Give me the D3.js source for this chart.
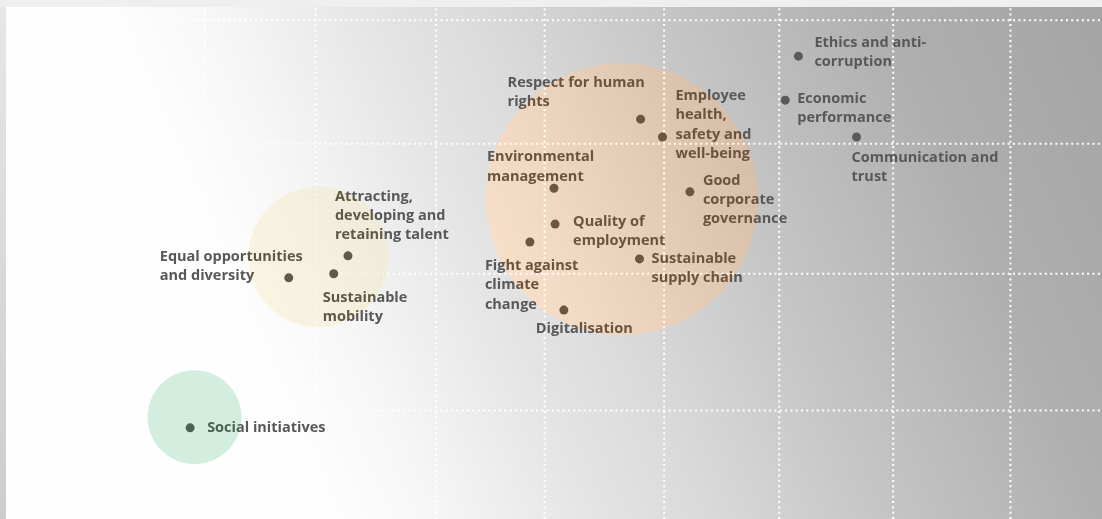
<!DOCTYPE html>
<html>
<head>
<meta charset="utf-8">
<script src="https://cdn.jsdelivr.net/npm/d3@7"></script>
<style>
  html, body { margin: 0; padding: 0; background: #efefef; }
  body { width: 1102px; height: 519px; overflow: hidden; }
  svg { display: block; }
  .label { font-family: "Open Sans", Lato, sans-serif; font-weight: 700; font-size: 14.5px; fill: #58585a; }
</style>
</head>
<body>
<svg id="chart" width="1102" height="519"></svg>
<script>
// Material topics (x = impact on business, y = relevance to stakeholders, 0-100)
const topicNames = [
    'Ethics and anti-\ncorruption',
    'Economic\nperformance',
    'Communication and\ntrust',
    'Respect for human\nrights',
    'Employee\nhealth,\nsafety and\nwell-being',
    'Environmental\nmanagement',
    'Good\ncorporate\ngovernance',
    'Quality of\nemployment',
    'Fight against\nclimate\nchange',
    'Sustainable\nsupply chain',
    'Digitalisation',
    'Attracting,\ndeveloping and\nretaining talent',
    'Equal opportunities\nand diversity',
    'Sustainable\nmobility',
    'Social initiatives'
];
const topicX = [72.3, 71.1, 77.6, 57.9, 59.9, 50.0, 62.4, 50.1, 47.8, 57.8, 50.9, 31.2, 25.8, 29.9, 16.8];
const topicY = [90.4, 81.8, 74.6, 78.1, 74.6, 64.6, 63.9, 57.6, 54.1, 50.8, 40.8, 51.4, 47.1, 47.9, 17.8];

// Priority bubbles
const bubbleX = [17.2, 28.5, 56.2];
const bubbleY = [19.9, 51.2, 62.5];
const bubbleWeight = [9.8, 21.8, 82.2];

// Grid lines
const gridX = [18.1, 28.2, 39.2, 49.1, 60.0, 70.5, 80.9, 91.6];
const gridY = [97.5, 73.4, 48.0, 21.3];

// Label placement next to each dot (px)
const labelOffsets = [
    [16, -14], [12, -2], [-5, 20], [-133, -37], [13, -42],
    [-67, -32], [13, -12], [18, -3], [-45, 23], [12, -1],
    [-28, 18], [-13, -60], [-129, -22], [-11, 23], [17, -1]
];

const bubbleFill = ['#d3eedb', 'rgba(236,224,190,0.3)', 'none'];
const bubbleTint = ['#b9d3c5', '#cec8b6', '#c6ae98'];

const svg = d3.select('#chart');
const plot = { left: 6, top: 7, right: 1102, bottom: 519 };

const x = d3.scaleLinear().domain([0, 100]).range([plot.left, plot.right]);
const y = d3.scaleLinear().domain([0, 100]).range([plot.bottom, plot.top]);
const r = d3.scaleSqrt().domain([0, 100]).range([0, 150]);

// Background gradient
const defs = svg.append('defs');
const grad = defs.append('linearGradient')
    .attr('id', 'bg')
    .attr('gradientUnits', 'userSpaceOnUse')
    .attr('x1', 105).attr('y1', 7)
    .attr('x2', 943).attr('y2', -358);
[[0, 255], [0.1, 248], [0.27, 229], [0.37, 220], [0.55, 199], [0.78, 176], [1, 165]]
    .forEach(([o, v]) => grad.append('stop')
        .attr('offset', o)
        .attr('stop-color', d3.rgb(v, v - 1, v - 1)));

const leftGrad = defs.append('linearGradient')
    .attr('id', 'edge')
    .attr('x1', 0).attr('y1', 0).attr('x2', 0).attr('y2', 1);
leftGrad.append('stop').attr('offset', 0).attr('stop-color', '#e6e6e6');
leftGrad.append('stop').attr('offset', 1).attr('stop-color', '#cdcdcd');

svg.append('rect')
    .attr('x', 0).attr('y', plot.top)
    .attr('width', plot.left).attr('height', plot.bottom - plot.top)
    .attr('fill', 'url(#edge)');

svg.append('rect')
    .attr('x', plot.left).attr('y', plot.top)
    .attr('width', plot.right - plot.left).attr('height', plot.bottom - plot.top)
    .attr('fill', 'url(#bg)');

// Grid
const gridStyle = g => {
    g.select('.domain').remove();
    g.selectAll('.tick line')
        .attr('stroke', '#fff')
        .attr('stroke-width', 2)
        .attr('stroke-dasharray', '2 3.3');
    g.selectAll('.tick text').remove();
};

svg.append('g')
    .attr('transform', `translate(0, ${plot.bottom})`)
    .call(d3.axisBottom(x).tickValues(gridX).tickSize(-(plot.bottom - plot.top)).tickFormat(''))
    .call(gridStyle);

svg.append('g')
    .attr('transform', `translate(${plot.left}, 0)`)
    .call(d3.axisLeft(y).tickValues(gridY).tickSize(-(plot.right - plot.left)).tickFormat(''))
    .call(gridStyle);

const bubbles = bubbleX.map((bx, i) => ({ x: bx, y: bubbleY[i], w: bubbleWeight[i], fill: bubbleFill[i], tint: bubbleTint[i] }));

// Bubble fills under the topics
svg.append('g')
    .selectAll('circle')
    .data(bubbles.filter(d => d.fill !== 'none'))
    .join('circle')
    .attr('cx', d => x(d.x))
    .attr('cy', d => y(d.y))
    .attr('r', d => r(d.w))
    .attr('fill', d => d.fill);

const topics = topicNames.map((name, i) => ({ name, x: topicX[i], y: topicY[i], off: labelOffsets[i] }));

// Dots
svg.append('g')
    .selectAll('circle')
    .data(topics)
    .join('circle')
    .attr('cx', d => x(d.x))
    .attr('cy', d => y(d.y))
    .attr('r', 4.5)
    .attr('fill', '#5a5a5a');

// Labels
const lineHeight = 19.3;
svg.append('g')
    .selectAll('text')
    .data(topics)
    .join('text')
    .attr('class', 'label')
    .attr('x', d => x(d.x) + d.off[0])
    .attr('y', d => y(d.y) + d.off[1] + 5)
    .each(function (d) {
        const lines = d.name.split('\n');
        d3.select(this).selectAll('tspan')
            .data(lines)
            .join('tspan')
            .attr('x', x(d.x) + d.off[0])
            .attr('dy', (l, i) => i === 0 ? 0 : lineHeight)
            .text(l => l);
    });

// Bubble tints blended over everything
svg.append('g')
    .selectAll('circle')
    .data(bubbles)
    .join('circle')
    .attr('cx', d => x(d.x))
    .attr('cy', d => y(d.y))
    .attr('r', d => r(d.w))
    .attr('fill', d => d.tint)
    .style('mix-blend-mode', 'color');
</script>
</body>
</html>
